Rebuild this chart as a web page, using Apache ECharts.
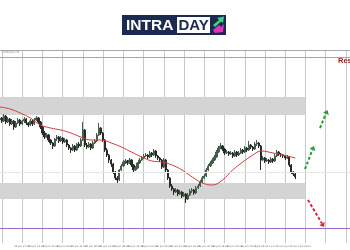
<!DOCTYPE html>
<html>
<head>
<meta charset="utf-8">
<style>html,body{margin:0;padding:0;background:#fff;}#c{width:350px;height:250px;}</style>
<script src="https://cdn.jsdelivr.net/npm/echarts@6/dist/echarts.min.js"></script>
</head>
<body>
<div id="c"></div>
<script>
// ---- data ----
const symbolTitle = 'EURUSD,H1';
const slotCount = 174; // bars + empty chart shift
const tickLabels = ['24 Jun 2020','24 Jun 07:00','24 Jun 14:00','24 Jun 21:00','25 Jun 04:00','25 Jun 11:00','25 Jun 18:00','26 Jun 01:00','26 Jun 08:00','26 Jun 15:00','26 Jun 22:00','29 Jun 05:00','29 Jun 12:00','29 Jun 19:00','30 Jun 02:00','30 Jun 09:00','30 Jun 16:00','30 Jun 23:00','1 Jul 06:00','1 Jul 13:00','1 Jul 20:00','2 Jul 03:00'];
// [open, close, low, high]
const candles = [
[130,132,128,134],[132,129,127,133],[129,134,128,136],[134,128,126,135],[128,131,127,133],
[131,126,124,132],[126,129,125,131],[129,123,120,130],[123,127,122,129],[127,130,126,132],
[130,126,124,131],[126,129,125,130],[129,131,127,133],[131,127,125,132],[127,125,123,128],
[125,129,124,131],[129,126,124,130],[126,130,125,132],[130,132,129,134],[132,128,126,133],
[128,123,121,129],[123,117,115,124],[117,113,111,119],[113,115,112,117],[115,110,108,116],
[110,107,105,111],[107,104,101,108],[104,111,103,112],[111,113,109,115],[113,109,107,114],
[109,112,108,114],[112,108,106,113],[108,110,107,112],[110,105,103,111],[105,102,100,106],
[102,100,97,103],[100,104,99,106],[104,100,98,105],[100,106,99,107],[106,104,102,108],
[104,110,103,112],[110,120,109,128],[120,105,103,121],[105,103,101,107],[103,106,102,108],
[106,102,100,107],[102,107,101,109],[107,109,106,111],[109,115,108,117],[115,122,114,127],
[122,117,115,123],[117,110,108,118],[110,100,98,111],[100,95,93,102],[95,90,87,96],
[90,86,83,91],[86,78,76,87],[78,72,70,79],[72,70,67,74],[70,80,69,81],
[80,84,79,86],[84,88,83,90],[88,89,86,91],[89,87,85,90],[87,90,86,92],
[90,85,83,91],[85,80,78,86],[80,82,79,84],[82,87,81,88],[87,90,86,92],
[90,92,89,94],[92,94,91,96],[94,95,93,97],[95,93,91,96],[93,97,92,99],
[97,95,93,98],[95,99,94,101],[99,94,92,100],[94,92,90,95],[92,90,88,93],
[90,83,81,91],[83,90,82,92],[90,80,78,91],[80,72,70,81],[72,64,62,73],
[64,61,59,66],[61,58,55,62],[58,60,57,62],[60,56,54,61],[56,58,55,60],
[58,54,52,59],[54,56,53,58],[56,51,47,57],[51,55,50,57],[55,59,54,61],
[59,60,57,62],[60,57,55,61],[57,62,56,64],[62,64,61,66],[64,68,63,70],
[68,72,67,74],[72,74,71,76],[74,80,73,82],[80,84,79,86],[84,87,83,89],
[87,90,86,92],[90,93,89,95],[93,98,92,100],[98,102,97,104],[102,104,101,107],
[104,101,99,105],[101,97,95,102],[97,98,96,100],[98,96,94,99],[96,97,95,99],
[97,94,92,98],[94,98,93,100],[98,95,93,99],[95,97,94,99],[97,100,96,102],
[100,98,96,101],[98,102,97,104],[102,100,98,103],[100,105,99,109],[105,103,101,106],
[103,101,99,104],[101,106,100,108],[106,107,104,110],[107,104,102,108],[104,90,80,105],
[90,92,89,94],[92,89,87,93],[89,90,88,92],[90,88,86,91],[88,91,87,93],
[91,89,87,92],[89,94,88,96],[94,98,93,100],[98,96,94,99],[96,95,93,97],
[95,94,92,96],[94,92,90,95],[92,93,91,95],[93,85,83,94],[85,78,76,86],
[78,76,74,79],[76,73,71,77]
];
// moving average read at selected bars
const maIndex  = [0,5,10,15,20,25,30,35,40,45,50,55,60,65,70,75,80,85,90,95,100,105,110,115,120,125,129,135,140,146];
const maValues = [143,141,137,132,125,122,120,117,113,110,110,107,103,98,93,89,88,85,80,73,67,65,70,80,88,95,99,97,95,92];
const resistanceLevel = 193;
const supportLevel = 22;
const bidLevel = 78;
const upperZone = [135,153];
const lowerZone = [51,67];
const zoneEndBar = 151;

// ---- build ----
const categories = Array.from({length: slotCount}, (_, i) => String(i));
const maData = maIndex.map((ix, k) => [ix, maValues[k]]);

const chart = echarts.init(document.getElementById('c'), null, {renderer: 'canvas'});
chart.setOption({
  animation: false,
  backgroundColor: '#ffffff',
  grid: {left: 0, right: 0, top: 50, bottom: 7},
  xAxis: {
    type: 'category',
    data: categories,
    boundaryGap: false,
    axisLine: {show: false},
    axisTick: {show: false},
    axisLabel: {
      interval: (i) => i % 7 === 0 && i / 7 < tickLabels.length,
      formatter: (v, i) => tickLabels[i / 7] || '',
      fontSize: 2.5, color: '#666', align: 'left', margin: 2, fontFamily: 'DejaVu Sans'
    },
    splitLine: {show: true, interval: (i) => i % 10 === 1, lineStyle: {color: '#c8c8c8', width: 1}}
  },
  yAxis: {type: 'value', min: 7, max: 200, show: false, splitLine: {show: false}},
  series: [
    {
      type: 'line', data: [], z: 1, silent: true,
      markArea: {
        silent: true,
        itemStyle: {color: '#d4d4d4', opacity: 1},
        data: [
          [{xAxis: '0', yAxis: upperZone[1]}, {xAxis: String(zoneEndBar), yAxis: upperZone[0]}],
          [{xAxis: '0', yAxis: lowerZone[1]}, {xAxis: String(zoneEndBar), yAxis: lowerZone[0]}]
        ]
      },
      markLine: {
        silent: true, symbol: 'none', label: {show: false},
        data: [
          {yAxis: resistanceLevel, lineStyle: {color: '#b195e6', width: 1.2, type: 'solid'}},
          {yAxis: supportLevel, lineStyle: {color: '#9a6cc8', width: 1, type: 'solid'}},
          {yAxis: bidLevel, lineStyle: {color: '#e6e6e6', width: 1, type: 'solid'}}
        ]
      }
    },
    {
      type: 'candlestick', data: candles, z: 3, barWidth: 1.7,
      itemStyle: {color: '#445e4a', color0: '#2a2a2a', borderColor: '#445e4a', borderColor0: '#2a2a2a', borderWidth: 1}
    },
    {
      type: 'line', data: maData, z: 4, smooth: 0.4, symbol: 'none',
      lineStyle: {color: '#d03c3c', width: 1}
    }
  ],
  graphic: [
    {type: 'line', shape: {x1: 0, y1: 50.5, x2: 350, y2: 50.5}, style: {stroke: '#a8a8a8', lineWidth: 1}, z: 10},
    {type: 'text', left: 2, top: 51, style: {text: symbolTitle, fontSize: 3, fill: '#888', fontFamily: 'DejaVu Sans'}, z: 10},
    {type: 'text', x: 338, y: 57, style: {text: 'Resistance', fontSize: 7.5, fontWeight: 'bold', fill: '#8e1c1c', fontFamily: 'Liberation Sans'}, z: 10},
    // logo
    {type: 'rect', shape: {x: 122, y: 15, width: 104, height: 20}, style: {fill: '#1c2a50'}, z: 10},
    {type: 'text', x: 126, y: 25.5, style: {text: 'INTRA', fontSize: 15.5, fontWeight: 'bold', fill: '#ffffff', fontFamily: 'Liberation Sans', verticalAlign: 'middle'}, z: 11},
    {type: 'rect', shape: {x: 177, y: 17, width: 33, height: 16}, style: {fill: '#ffffff'}, z: 11},
    {type: 'text', x: 178.5, y: 25.5, style: {text: 'DAY', fontSize: 15, fontWeight: 'bold', fill: '#1c2a50', fontFamily: 'Liberation Sans', verticalAlign: 'middle'}, z: 12},
    {type: 'polygon', shape: {points: [[213,25],[219,20],[217,18],[224,16.5],[223,23],[221,21.5],[215,27]]}, style: {fill: '#3fd08c'}, z: 12},
    {type: 'polygon', shape: {points: [[213,30],[219,25],[221,27],[224,24],[223,32],[215,33]]}, style: {fill: '#e236b8'}, z: 12},
    // arrows
    {type: 'line', shape: {x1: 305, y1: 169, x2: 312.4, y2: 149.7}, style: {stroke: '#2f9a3a', lineWidth: 2, lineDash: [3, 2]}, z: 10},
    {type: 'polygon', shape: {points: [[314,146],[315.4,151],[309.6,148.6]]}, style: {fill: '#2f9a3a'}, z: 10},
    {type: 'line', shape: {x1: 320, y1: 128, x2: 325.9, y2: 113.7}, style: {stroke: '#2f9a3a', lineWidth: 2, lineDash: [3, 2]}, z: 10},
    {type: 'polygon', shape: {points: [[327.5,110],[328.8,115],[323.1,112.6]]}, style: {fill: '#2f9a3a'}, z: 10},
    {type: 'line', shape: {x1: 308, y1: 200, x2: 322, y2: 223.6}, style: {stroke: '#d42a3a', lineWidth: 2, lineDash: [3, 2]}, z: 10},
    {type: 'polygon', shape: {points: [[324,227],[324.7,222],[319.3,225.2]]}, style: {fill: '#d42a3a'}, z: 10}
  ]
});
</script>
</body>
</html>
